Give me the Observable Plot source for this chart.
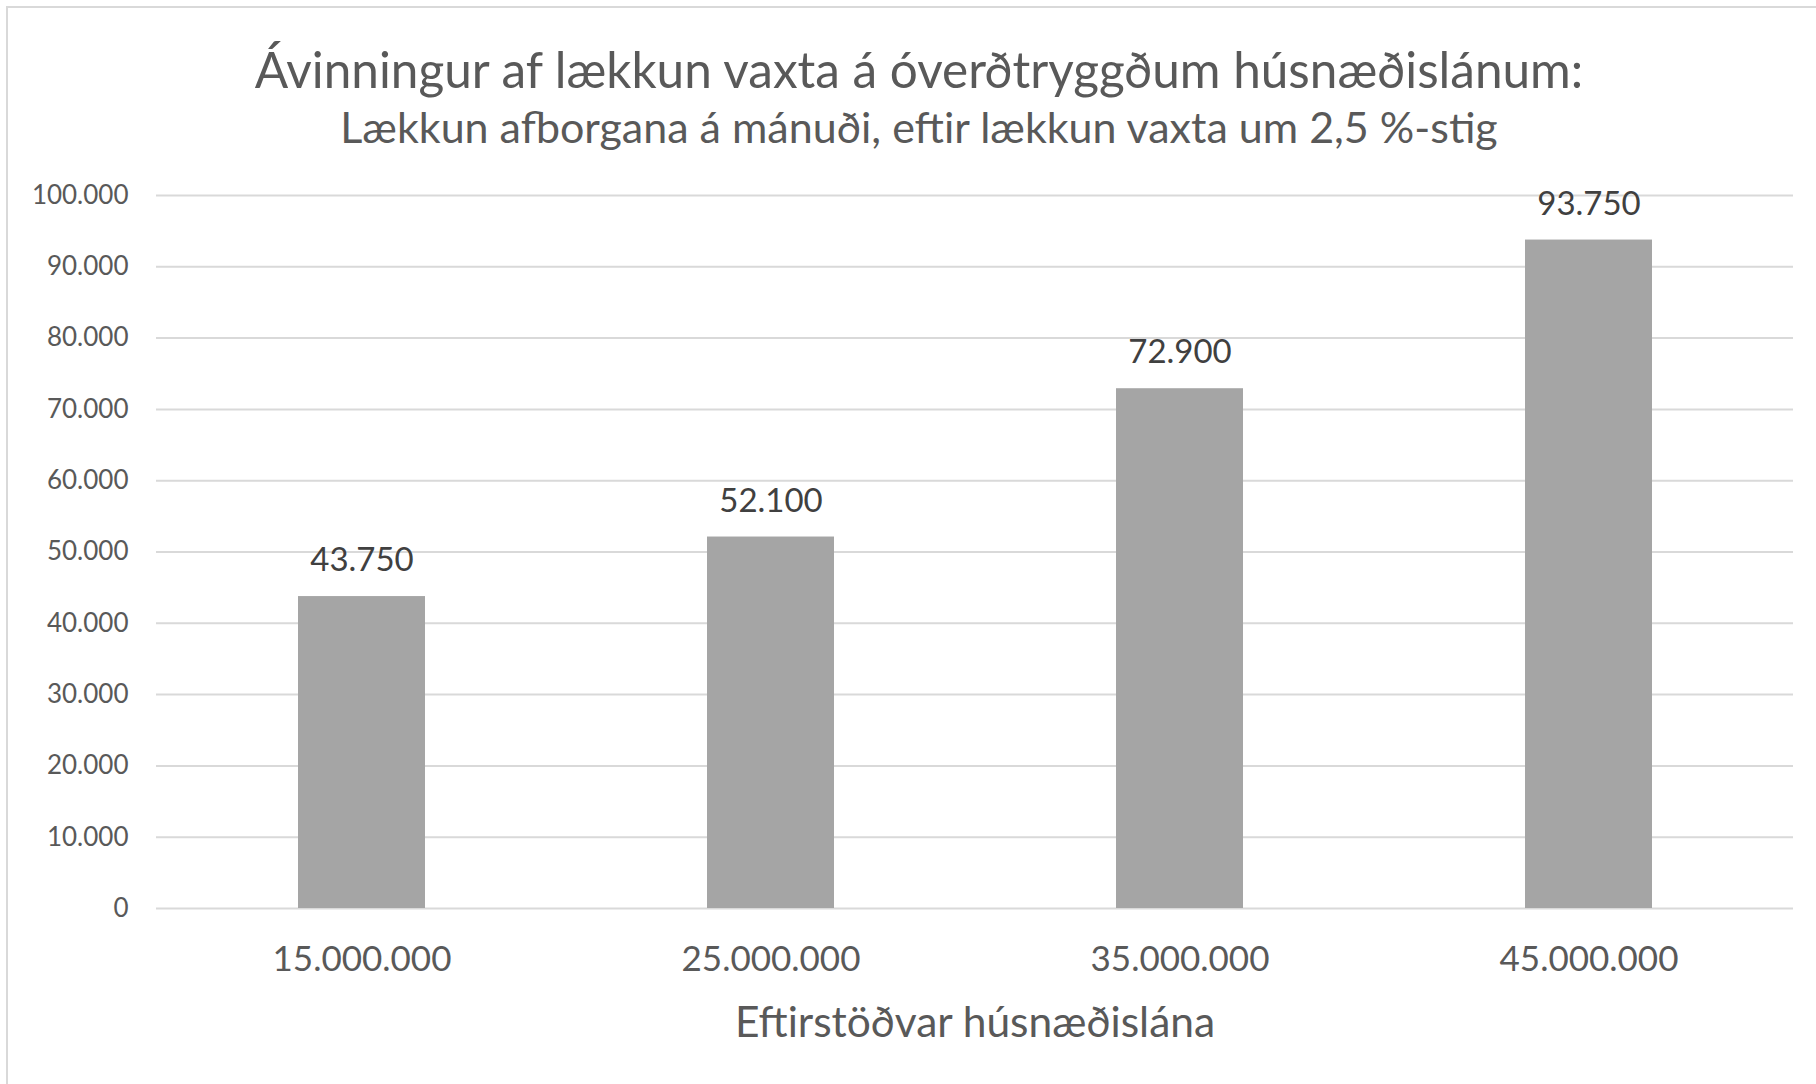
<!DOCTYPE html>
<html>
<head>
<meta charset="utf-8">
<script src="https://cdn.jsdelivr.net/npm/d3@7"></script>
<script src="https://cdn.jsdelivr.net/npm/@observablehq/plot@0.6"></script>
<style>
  html, body { margin: 0; padding: 0; background: #fff; overflow: hidden; width: 1816px; height: 1084px; }
  #frame { position: absolute; left: 6px; top: 6px; width: 2000px; height: 2000px; border: 2px solid #d9d9d9; box-sizing: border-box; }
  #title { position: absolute; left: 8px; width: 1822px; top: 37px; height: 64px; line-height: 64px; text-align: center;
           font-family: Lato, "Open Sans", sans-serif; font-weight: 400; font-size: 49.5px; color: #595959; white-space: nowrap; }
  #subtitle { position: absolute; left: 8px; width: 1822px; top: 102px; height: 50px; line-height: 50px; text-align: center;
           font-family: Lato, "Open Sans", sans-serif; font-weight: 400; font-size: 43px; color: #595959; white-space: nowrap; }
  #chart { position: absolute; left: 0; top: 150px; }
</style>
</head>
<body>
<div id="frame"></div>
<div id="title"></div>
<div id="subtitle"></div>
<div id="chart"></div>
<script>
// ---- data ----
const titleText = "Ávinningur af lækkun vaxta á óverðtryggðum húsnæðislánum:";
const subtitleText = "Lækkun afborgana á mánuði, eftir lækkun vaxta um 2,5 %-stig";
const xAxisLabel = "Eftirstöðvar húsnæðislána";
const categories = ["15.000.000", "25.000.000", "35.000.000", "45.000.000"];
const values = [43750, 52100, 72900, 93750];
const yTicks = [0, 10000, 20000, 30000, 40000, 50000, 60000, 70000, 80000, 90000, 100000];

// ---- build ----
document.getElementById("title").textContent = titleText;
document.getElementById("subtitle").textContent = subtitleText;

const locale = d3.formatLocale({decimal: ",", thousands: ".", grouping: [3], currency: ["", ""]});
const fmt = locale.format(",");
const data = categories.map((c, i) => ({cat: c, value: values[i]}));

const textColor = "#595959";
const chart = Plot.plot({
  width: 1816,
  height: 934,
  marginLeft: 156,
  marginRight: 23,
  marginTop: 45,
  marginBottom: 176,
  style: {fontFamily: "Lato, 'Open Sans', sans-serif", color: textColor, background: "transparent"},
  x: {domain: categories, paddingInner: 0.69, paddingOuter: 0.345},
  y: {domain: [0, 100000]},
  marks: [
    Plot.gridY(yTicks, {stroke: "#d9d9d9", strokeOpacity: 1, strokeWidth: 2}),
    Plot.barY(data, {x: "cat", y: "value", fill: "#a5a5a5"}),
    Plot.text(data, {x: "cat", y: "value", text: d => fmt(d.value), dy: -36, fontSize: 33, fill: "#404040"}),
    Plot.axisY(yTicks, {tickFormat: fmt, tickSize: 0, tickPadding: 28, fontSize: 26, label: null, fill: textColor}),
    Plot.axisX({tickSize: 0, tickPadding: 38, fontSize: 35, label: null, fill: textColor}),
    Plot.text([xAxisLabel], {frameAnchor: "bottom", text: d => d, dy: 128, fontSize: 42.5, fill: textColor})
  ]
});
document.getElementById("chart").appendChild(chart);
</script>
</body>
</html>
